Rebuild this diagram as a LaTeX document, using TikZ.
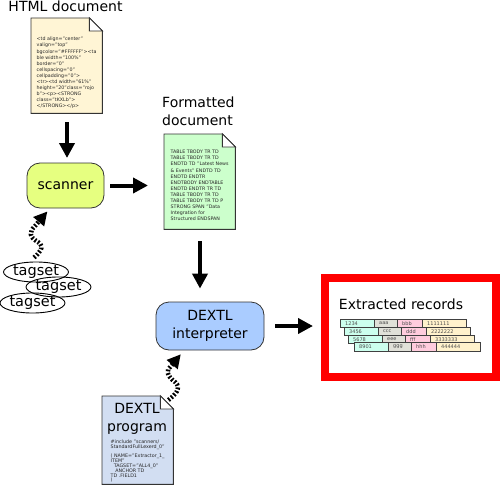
\documentclass[tikz,border=0pt]{standalone}
\usepackage{fontspec}
\setmainfont{DejaVu Sans}
\usetikzlibrary{arrows.meta,calc,shapes.geometric,positioning}
\definecolor{htmlc}{HTML}{FFF5D5}
\definecolor{fmtc}{HTML}{CCFFCC}
\definecolor{progc}{HTML}{D2DEF2}
\definecolor{scanc}{HTML}{E6FF80}
\definecolor{intc}{HTML}{AACCFF}
\definecolor{cellA}{HTML}{CCFFEE}
\definecolor{cellB}{HTML}{E0E0D8}
\definecolor{cellC}{HTML}{FFCCDD}
\definecolor{cellD}{HTML}{FFF2CC}
\tikzset{
  x=1pt,y=-1pt,
  lbl/.style={inner sep=0pt,font=\fontsize{14}{17.5}\selectfont,align=left},
  docbox/.style={inner sep=0pt,anchor=north west,align=left},
  tinytext/.style={font=\fontsize{4.75}{6.1}\selectfont,text=black!85},
  procbox/.style={draw=black!80,line width=0.8pt,rounded corners=13pt,inner sep=0pt,font=\fontsize{14}{18}\selectfont,align=center},
  tagbox/.style={draw,ellipse,line width=0.9pt,minimum width=64pt,minimum height=20pt,inner sep=0pt,font=\fontsize{14.5}{15}\selectfont},
  flow/.style={line width=4pt,-{Triangle[length=15pt,width=15pt]}},
  wavy/.style={line width=4.5pt,dash pattern=on 1.8pt off 1.8pt,-{Triangle[length=13.5pt,width=13.5pt]}},
  cell/.style={draw=black!75,line width=0.9pt,inner sep=0pt,anchor=north west},
  celltext/.style={inner sep=0pt,anchor=west,text=black!70,font=\fontsize{5}{5}\selectfont},
}
\newcommand{\foldeddoc}[2]{%
  \draw[draw=black!80,line width=0.9pt,fill=#2] (#1.north west) -- ($(#1.north east)+(-13,0)$) -- ($(#1.north east)+(0,13)$) -- (#1.south east) -- (#1.south west) -- cycle;
  \draw[draw=black!80,line width=0.9pt,fill=white] ($(#1.north east)+(-13,0)$) -- ($(#1.north east)+(-13,13)$) -- ($(#1.north east)+(0,13)$) -- cycle;
}
\newcommand{\reccell}[7]{% name, x, y, w, h, colour, text
  \node[cell,fill=#6,minimum width=#4pt,minimum height=#5pt] (#1) at (#2,#3) {};
  \node[celltext] (#1t) at ($(#1.west)+(5,0)$) {#7};
}
\begin{document}
\begin{tikzpicture}
\useasboundingbox (0,0) rectangle (500,484);
% documents
\node[docbox,minimum width=71pt,minimum height=95pt] (html) at (31,18) {};
\foldeddoc{html}{htmlc}
\node[docbox,tinytext] (htmltext) at (36.5,37) {<td align="center"\\valign="top"\\bgcolor="\#FFFFFF"><ta\\ble width="100\%"\\border="0"\\cellspacing="0"\\cellpadding="0">\\<tr><td width="61\%"\\height="20"class="rojo\\b"><p><STRONG\\class="tKXLb">\\</STRONG></p>};
\node[docbox,minimum width=71pt,minimum height=95pt] (fmt) at (164,134) {};
\foldeddoc{fmt}{fmtc}
\node[docbox,tinytext] (fmttext) at (170.5,150) {TABLE TBODY TR TD\\TABLE TBODY TR TD\\ENDTD TD "Latest News\\\& Events" ENDTD TD\\ENDTD ENDTR\\ENDTBODY ENDTABLE\\ENDTD ENDTR TR TD\\TABLE TBODY TR TD\\TABLE TBODY TR TD P\\STRONG SPAN "Data\\Integration for\\Structured  ENDSPAN};
\node[docbox,minimum width=71pt,minimum height=88pt] (prog) at (102,396) {};
\foldeddoc{prog}{progc}
\node[lbl,align=center,font=\fontsize{14}{18}\selectfont] (progtitle) at (137,419) {DEXTL\\program};
\node[docbox,tinytext,font=\fontsize{4.8}{4.2}\selectfont] (progtext) at (110.5,440) {\#include "scanners/\\StandardFullLexerd\_0"\\[3.5pt]( NAME="Extractor\_1\_\\ITEM"\\\ \ TAGSET="ALL4\_0"\\\ \ \ ANCHOR TD\\TD .FIELD1\\)};
% titles
\node[lbl] (htmltitle) at (65.5,6) {HTML document};
\node[lbl,anchor=north west] (fmttitle) at (162,97) {Formatted\\document};
% processes
\node[procbox,fill=scanc,minimum width=77pt,minimum height=45pt] (scanner) at (65.5,185.5) {scanner};
\node[procbox,fill=intc,minimum width=108pt,minimum height=48pt] (interp) at (210,326) {DEXTL\\interpreter};
% tagsets
\node[tagbox] (tag1) at (36,272) {tagset};
\node[tagbox] (tag2) at (58.5,287) {tagset};
\node[tagbox] (tag3) at (32.5,303) {tagset};
% result box
\node[draw=red,line width=8pt,minimum width=171pt,minimum height=99pt,inner sep=0pt] (result) at (410.5,327.5) {};
\node[lbl] (restitle) at (401,304) {Extracted records};
% records
\reccell{a1c}{340}{319}{34}{8}{cellA}{1234}
\reccell{a2c}{374}{319}{23}{8}{cellB}{aaa}
\reccell{a3c}{397}{319}{25}{8}{cellC}{bbb}
\reccell{a4c}{422}{319}{44}{8}{cellD}{1111111}
\reccell{b1c}{344}{327}{34}{8}{cellA}{3456}
\reccell{b2c}{378}{327}{23}{8}{cellB}{ccc}
\reccell{b3c}{401}{327}{25}{8}{cellC}{ddd}
\reccell{b4c}{426}{327}{44}{8}{cellD}{2222222}
\reccell{c1c}{348}{335}{34}{7.5}{cellA}{5678}
\reccell{c2c}{382}{335}{23}{7.5}{cellB}{eee}
\reccell{c3c}{405}{335}{25}{7.5}{cellC}{fff}
\reccell{c4c}{430}{335}{44}{7.5}{cellD}{3333333}
\reccell{d1c}{354}{342}{34}{9}{cellA}{8901}
\reccell{d2c}{388}{342}{23}{9}{cellB}{ggg}
\reccell{d3c}{411}{342}{25}{9}{cellC}{hhh}
\reccell{d4c}{436}{342}{44}{9}{cellD}{444444}
% connectors
\draw[flow,shorten <=9pt,shorten >=5pt] (html.south -| 67,0) -- (67,163);
\draw[flow,shorten <=6pt,shorten >=16pt] (scanner.east) -- (scanner.east -| fmt.west);
\draw[flow,shorten <=12pt,shorten >=13pt] (fmt.south -| 200,0) -- (interp.north -| 200,0);
\draw[flow,shorten <=11pt,shorten >=41pt] (interp.east) -- (interp.east -| d1c.west);
\draw[wavy,shorten >=4pt] (tag1.north) ++(-2,-4) .. controls (38,254) and (46,247) .. (38,242) .. controls (29,237) and (29,232) .. (35,226) -- (scanner.south west -| 50,0);
\draw[wavy,shorten >=5pt] (prog.north east) ++(-5,4) .. controls (175,395) and (182,388) .. (175,382) .. controls (166,375) and (166,370) .. (171,366) -- (interp.south west -| 184,0);
\end{tikzpicture}
\end{document}
